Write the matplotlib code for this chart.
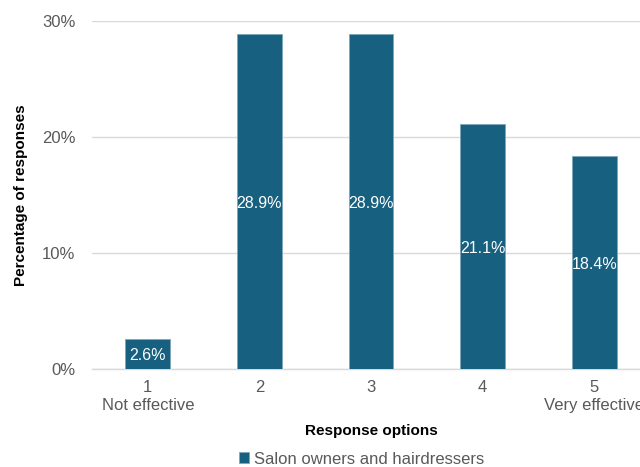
import matplotlib.pyplot as plt
from matplotlib.ticker import FuncFormatter

plt.rcParams['font.family'] = ['Liberation Sans', 'DejaVu Sans']

# chart data
categories = [1, 2, 3, 4, 5]
tick_labels = ['1\nNot effective', '2', '3', '4', '5\nVery effective']
values = [2.6, 28.9, 28.9, 21.1, 18.4]
series_name = 'Salon owners and hairdressers'

bar_color = '#17607f'
grey = '#595959'

fig = plt.figure(figsize=(6.4, 4.67), dpi=100)
# axes runs slightly past the right edge, like the original export
ax = fig.add_axes([92 / 640, 1 - 369 / 467, 558 / 640, 348 / 467])

bars = ax.bar(categories, values, width=0.4, color=bar_color,
              edgecolor='#7fa7bb', linewidth=0.6, label=series_name, zorder=3)

# value labels in the middle of each bar
for x, v in zip(categories, values):
    ax.text(x, v / 2 - 0.15, f'{v:.1f}%', ha='center', va='center',
            color='white', fontsize=11.5, zorder=4)

ax.set_xlim(0.5, 5.5)
ax.set_ylim(0, 30)
ax.set_yticks([0, 10, 20, 30])
ax.yaxis.set_major_formatter(FuncFormatter(lambda y, _: f'{y:.0f}%'))
ax.set_xticks(categories)
ax.set_xticklabels(tick_labels)

ax.grid(axis='y', color='#d9d9d9', linewidth=1, zorder=0)
for s in ['top', 'right', 'left']:
    ax.spines[s].set_visible(False)
ax.spines['bottom'].set_color('#d9d9d9')
ax.spines['bottom'].set_linewidth(1)

ax.tick_params(axis='both', length=0, labelsize=12, colors=grey)
ax.tick_params(axis='x', pad=8)
ax.tick_params(axis='y', pad=12)

ax.set_xlabel('Response options', fontsize=11, fontweight='bold', labelpad=8)
ax.set_ylabel('Percentage of responses', fontsize=11, fontweight='bold', labelpad=10)

fig.legend(handles=[bars], labels=[series_name], loc='center',
           bbox_to_anchor=(362 / 640, 1 - 459 / 467), frameon=False,
           fontsize=12, handlelength=0.6, handleheight=0.6, handletextpad=0.3,
           labelcolor=grey)

fig.savefig('out.png', dpi=100)
